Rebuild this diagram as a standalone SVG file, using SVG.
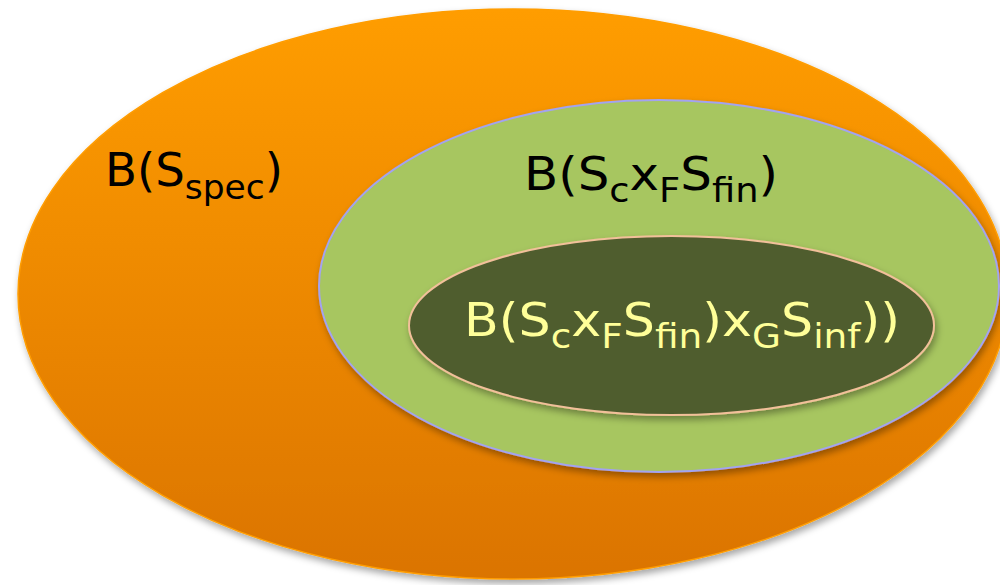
<svg xmlns="http://www.w3.org/2000/svg" width="1000" height="585" viewBox="0 0 1000 585">
<style>
.t{font-family:"Comic Sans MS","DejaVu Sans",sans-serif;font-size:46px}
.s{font-size:34px}
.dark{fill:#000}
.light{fill:#FFFF99}
</style>
<defs>
<linearGradient id="og" x1="0" y1="0" x2="0" y2="1">
<stop offset="0" stop-color="#FF9D00"/>
<stop offset="1" stop-color="#DB7400"/>
</linearGradient>
<filter id="sh" x="-10%" y="-10%" width="120%" height="130%">
<feDropShadow dx="2" dy="4" stdDeviation="3.5" flood-color="#000" flood-opacity="0.35"/>
</filter>
</defs>
<rect width="1000" height="585" fill="#fff"/>
<g id="outer">
<ellipse cx="513" cy="294" rx="495" ry="285" fill="url(#og)" stroke="#FF9D00" stroke-width="1.5" filter="url(#sh)"/>
<text class="t dark" x="105" y="186" textLength="178" lengthAdjust="spacingAndGlyphs">B(S<tspan class="s" dy="13">spec</tspan><tspan dy="-13">)</tspan></text>
</g>
<g id="middle">
<ellipse cx="659" cy="286" rx="340" ry="186" fill="#A7C660" stroke="#A3A3F0" stroke-width="2" filter="url(#sh)"/>
<text class="t dark" x="524" y="190" textLength="254" lengthAdjust="spacingAndGlyphs">B(S<tspan class="s" dy="12">c</tspan><tspan dy="-12">x</tspan><tspan class="s" dy="12">F</tspan><tspan dy="-12">S</tspan><tspan class="s" dy="12">fin</tspan><tspan dy="-12">)</tspan></text>
</g>
<g id="inner">
<ellipse cx="671.5" cy="325.5" rx="262.5" ry="89.5" fill="#4F5D2F" stroke="#F2C09A" stroke-width="2" filter="url(#sh)"/>
<text class="t light" x="464" y="336" textLength="436" lengthAdjust="spacingAndGlyphs">B(S<tspan class="s" dy="12">c</tspan><tspan dy="-12">x</tspan><tspan class="s" dy="12">F</tspan><tspan dy="-12">S</tspan><tspan class="s" dy="12">fin</tspan><tspan dy="-12">)x</tspan><tspan class="s" dy="12">G</tspan><tspan dy="-12">S</tspan><tspan class="s" dy="12">inf</tspan><tspan dy="-12">))</tspan></text>
</g>
<g id="connectors"/>
</svg>
